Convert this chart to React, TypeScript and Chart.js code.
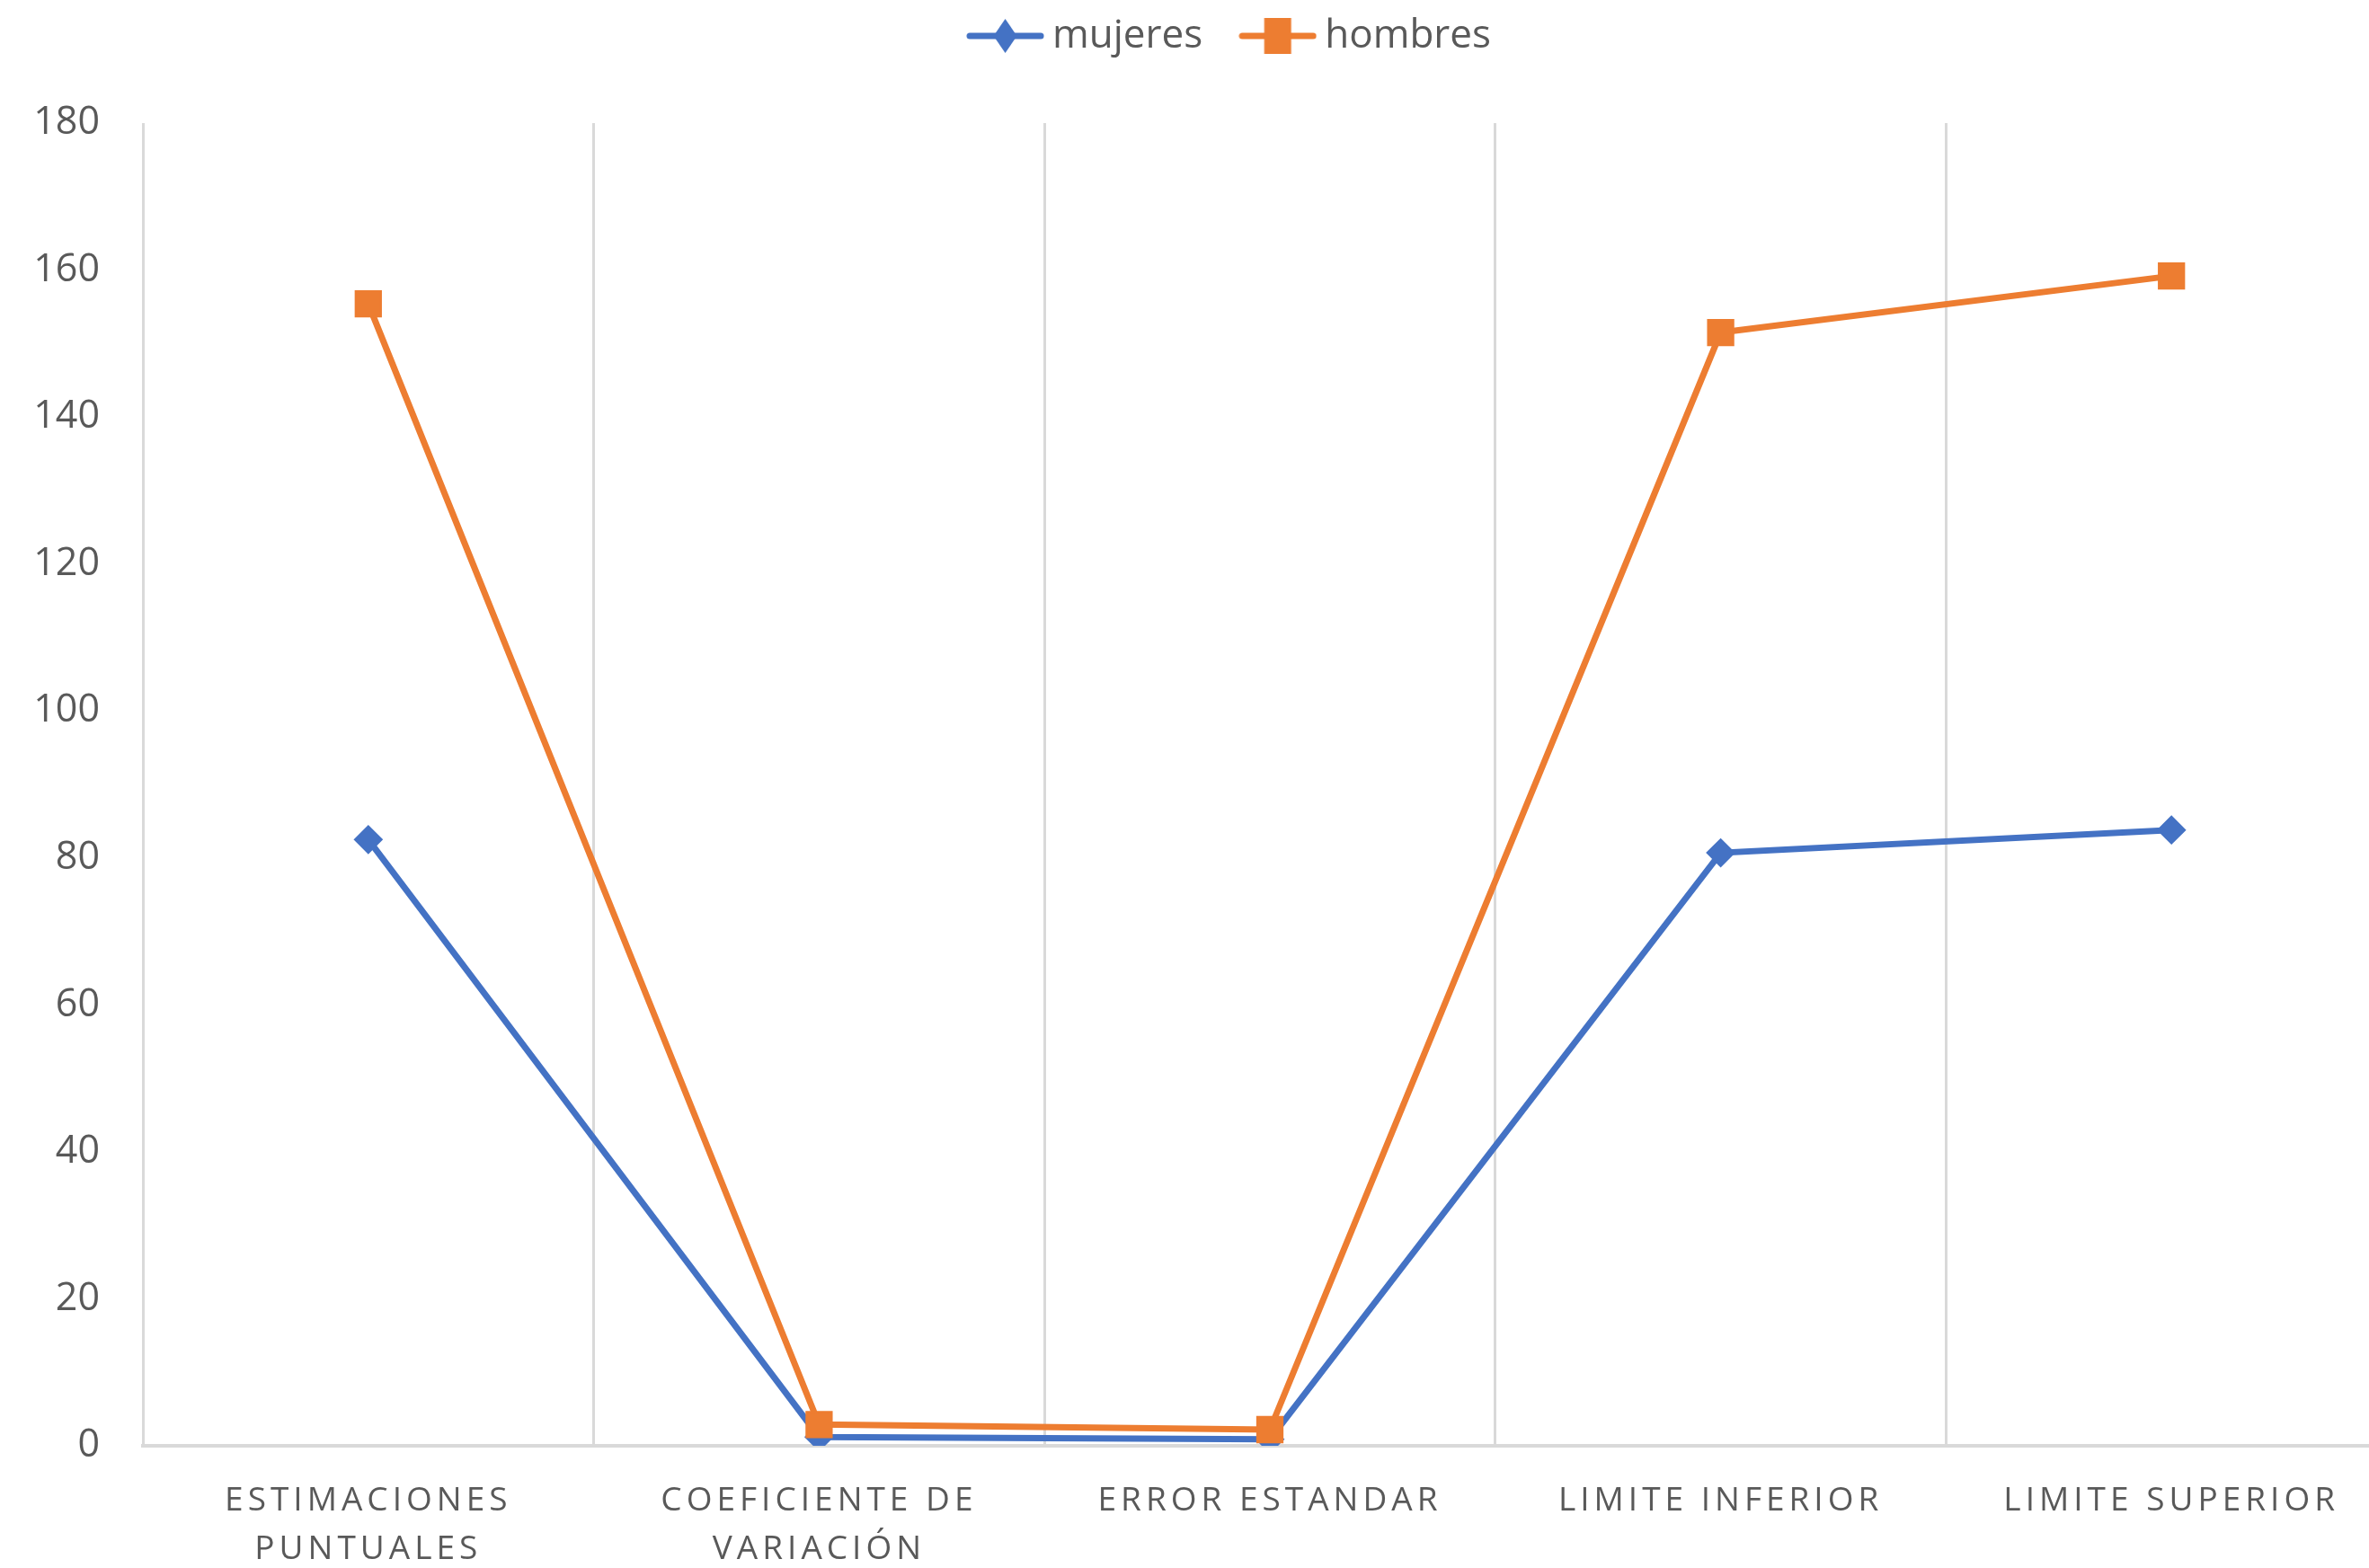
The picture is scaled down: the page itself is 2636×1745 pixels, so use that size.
import React, { useEffect, useRef } from "react";
import { Chart, registerables } from "chart.js";

Chart.register(...registerables);

// ---- data ----
const categories: string[][] = [
  ["ESTIMACIONES", "PUNTUALES"],
  ["COEFICIENTE DE", "VARIACIÓN"],
  ["ERROR ESTANDAR"],
  ["LIMITE INFERIOR"],
  ["LIMITE SUPERIOR"],
];
const seriesNames = ["mujeres", "hombres"];
const mujeres = [82.5, 1.2, 0.9, 80.7, 83.8];
const hombres = [155.4, 2.9, 2.2, 151.5, 159.2];
const yMin = 0;
const yMax = 180;
const yStep = 20;

const BLUE = "#4472C4";
const ORANGE = "#ED7D31";
const TEXT = "#595959";
const GRID = "#D9D9D9";

function makeLegendMarker(color: string, shape: "diamond" | "square"): HTMLCanvasElement {
  const c = document.createElement("canvas");
  c.width = 87;
  c.height = 42;
  const g = c.getContext("2d")!;
  g.strokeStyle = color;
  g.lineWidth = 7;
  g.lineCap = "round";
  g.beginPath();
  g.moveTo(4, 21);
  g.lineTo(83, 21);
  g.stroke();
  g.fillStyle = color;
  if (shape === "diamond") {
    g.beginPath();
    g.moveTo(43.5, 2);
    g.lineTo(56.5, 21);
    g.lineTo(43.5, 40);
    g.lineTo(30.5, 21);
    g.closePath();
    g.fill();
  } else {
    g.fillRect(28.5, 1, 30, 40);
  }
  return c;
}

export default function App() {
  const ref = useRef<HTMLCanvasElement | null>(null);

  useEffect(() => {
    if (!ref.current) return;
    Chart.defaults.font.family = "'Open Sans', sans-serif";
    Chart.defaults.color = TEXT;

    const markers = [makeLegendMarker(BLUE, "diamond"), makeLegendMarker(ORANGE, "square")];

    const layoutPlugin = {
      id: "layoutTweaks",
      afterInit(chart: any) {
        const lg = chart.legend;
        if (lg) {
          const orig = lg.fit;
          lg.fit = function () {
            orig.call(this);
            this.height = 172;
          };
        }
      },
      afterLayout(chart: any) {
        const lg = chart.legend;
        if (lg) {
          lg.left += 40;
          lg.right += 40;
        }
      },
      afterDatasetsDraw(chart: any) {
        (chart.ctx as any).letterSpacing = "5px";
      },
      afterDraw(chart: any) {
        (chart.ctx as any).letterSpacing = "0px";
      },
    };

    const chart = new Chart(ref.current, {
      type: "line",
      data: {
        labels: categories,
        datasets: [
          {
            label: seriesNames[0],
            data: mujeres,
            borderColor: BLUE,
            backgroundColor: BLUE,
            borderWidth: 7,
            pointStyle: "rectRot",
            pointRadius: 15,
            pointBorderWidth: 2,
            tension: 0,
            fill: false,
            order: 1,
          },
          {
            label: seriesNames[1],
            data: hombres,
            borderColor: ORANGE,
            backgroundColor: ORANGE,
            borderWidth: 7,
            pointStyle: "rect",
            pointRadius: 20,
            pointBorderWidth: 2,
            tension: 0,
            fill: false,
            order: 0,
          },
        ],
      },
      options: {
        responsive: false,
        animation: false,
        devicePixelRatio: 1,
        layout: { padding: { top: -35, left: 0, right: 33, bottom: 0 } },
        plugins: {
          tooltip: { enabled: false },
          legend: {
            display: true,
            position: "top",
            align: "center",
            labels: {
              usePointStyle: true,
              pointStyleWidth: 61,
              padding: 53,
              color: TEXT,
              font: { size: 44 },
              generateLabels: (c: any) => {
                const items = Chart.defaults.plugins.legend.labels.generateLabels(c);
                return items
                  .slice()
                  .sort((a: any, b: any) => a.datasetIndex - b.datasetIndex)
                  .map((it: any) => ({ ...it, pointStyle: markers[it.datasetIndex] }));
              },
            },
          },
        },
        scales: {
          x: {
            type: "category",
            offset: true,
            grid: { display: true, color: GRID, lineWidth: 3, offset: true, drawTicks: false },
            border: { display: true, color: GRID, width: 4 },
            ticks: {
              color: TEXT,
              font: { size: 37, lineHeight: 1.46 },
              padding: 34,
              autoSkip: false,
              maxRotation: 0,
              minRotation: 0,
              z: 1,
            },
            afterFit: (s: any) => {
              s.height = 136;
            },
          },
          y: {
            min: yMin,
            max: yMax,
            grid: { display: false, drawTicks: false },
            border: { display: false },
            ticks: {
              stepSize: yStep,
              color: TEXT,
              font: { size: 43 },
              padding: 48,
            },
            afterFit: (s: any) => {
              s.width = 159;
            },
          },
        },
      },
      plugins: [layoutPlugin],
    } as any);

    return () => chart.destroy();
  }, []);

  return (
    <div
      style={{
        position: "fixed",
        left: 0,
        top: 0,
        width: 2636,
        height: 1745,
        overflow: "hidden",
        background: "#fff",
      }}
    >
      <canvas ref={ref} width={2700} height={1745} style={{ display: "block" }} />
    </div>
  );
}
